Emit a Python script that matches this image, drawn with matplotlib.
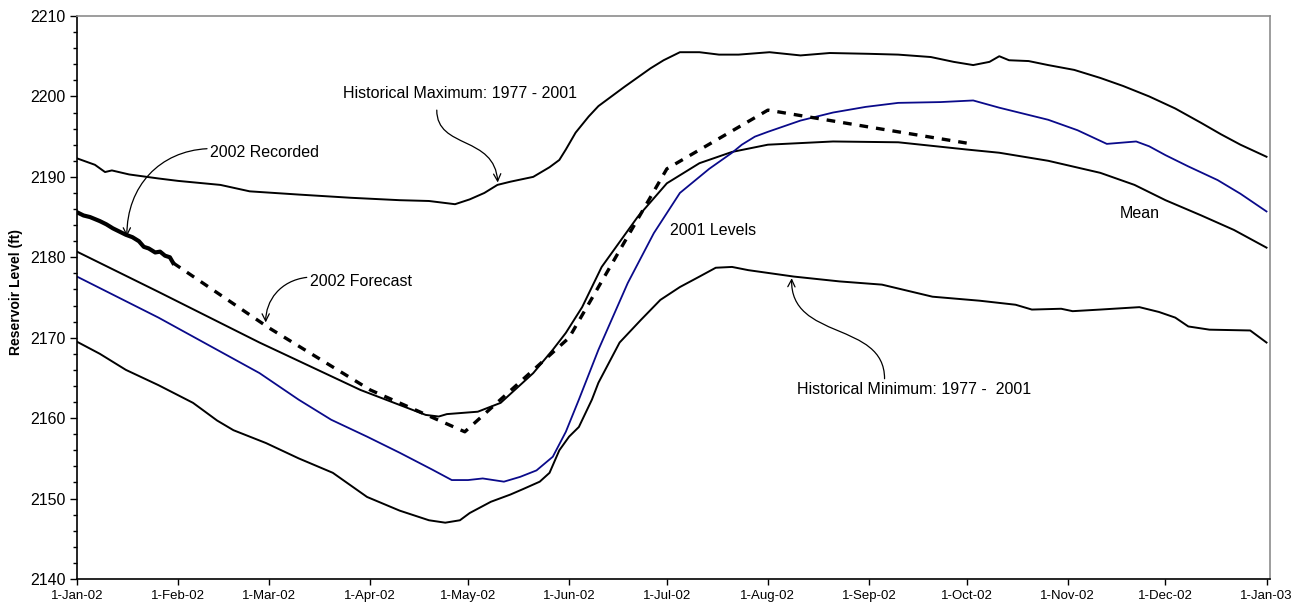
import numpy as np
import matplotlib
matplotlib.use("Agg")
import matplotlib.pyplot as plt
import matplotlib.dates as mdates
from matplotlib.patches import FancyArrowPatch
from matplotlib.path import Path

plt.rcParams['font.family'] = ['Liberation Sans', 'DejaVu Sans']

START = np.datetime64('2002-01-01')

# Historical maximum 1977-2001 (day of year, ft)
max_days = [0, 5.5, 8.6, 10.7, 16, 25, 31, 44, 53, 68, 84, 99, 108, 116, 120.5, 125, 129, 133,
            140, 145, 148, 150, 153, 157, 160, 168, 176, 180, 185, 191, 197, 203, 212.5, 222,
            231, 243, 252, 262, 269, 275, 280, 283, 286, 292, 298, 306, 314, 321, 329, 337,
            345, 351, 357, 365]
max_lvl = [2192.3, 2191.5, 2190.6, 2190.8, 2190.3, 2189.8, 2189.5, 2189.0, 2188.2, 2187.8, 2187.4,
           2187.1, 2187.0, 2186.6, 2187.2, 2188.0, 2189.0, 2189.4, 2190.0, 2191.2, 2192.1, 2193.4,
           2195.5, 2197.5, 2198.8, 2201.2, 2203.5, 2204.5, 2205.5, 2205.5, 2205.2, 2205.2, 2205.5,
           2205.1, 2205.4, 2205.3, 2205.2, 2204.9, 2204.3, 2203.9, 2204.3, 2205.0, 2204.5, 2204.4,
           2203.9, 2203.3, 2202.3, 2201.3, 2200.0, 2198.5, 2196.7, 2195.3, 2194.0, 2192.5]

# Mean level
mean_days = [0, 25, 56, 87, 107, 111, 113.5, 123, 130, 140, 146, 150, 155, 161, 172, 181, 191,
             201, 212, 232, 252, 273, 283, 298, 314, 324.5, 334, 345, 355, 365]
mean_lvl = [2180.7, 2175.7, 2169.4, 2163.5, 2160.4, 2160.2, 2160.5, 2160.8, 2161.9, 2165.6,
            2168.5, 2170.6, 2173.8, 2178.8, 2185.0, 2189.2, 2191.7, 2193.1, 2194.0, 2194.4,
            2194.3, 2193.4, 2193.0, 2192.0, 2190.5, 2189.0, 2187.1, 2185.2, 2183.4, 2181.2]

# 2001 levels
l2001_days = [0, 25, 56, 68, 78, 89, 99, 109, 115, 120, 124.5, 131, 136, 141, 146, 150, 154, 160,
              169, 177, 185, 194, 201, 204, 208, 212, 222, 232, 242, 252, 265, 275, 283, 298, 307,
              316, 325, 329, 334, 341, 350, 357, 365]
l2001_lvl = [2177.6, 2172.5, 2165.6, 2162.3, 2159.8, 2157.7, 2155.7, 2153.6, 2152.3, 2152.3,
             2152.5, 2152.1, 2152.7, 2153.5, 2155.2, 2158.3, 2162.3, 2168.5, 2176.8, 2183.0,
             2188.0, 2191.0, 2193.0, 2194.0, 2195.0, 2195.6, 2197.0, 2198.0, 2198.7, 2199.2,
             2199.3, 2199.5, 2198.6, 2197.1, 2195.8, 2194.1, 2194.4, 2193.8, 2192.7, 2191.3,
             2189.6, 2187.9, 2185.7]

# Historical minimum 1977-2001
min_days = [0, 7, 15, 25, 35.6, 38.3, 43, 48, 58, 68, 78.5, 89, 99, 108, 113, 117.5, 120.5, 127,
            133, 137, 142, 145, 148, 151, 154, 158, 160, 166.5, 173, 179, 185, 191, 196, 201, 206,
            220, 234, 247, 262.5, 277, 288, 293, 302, 305.5, 314, 326, 332, 337, 341, 347.5, 360,
            365]
min_lvl = [2169.5, 2168.0, 2166.0, 2164.1, 2161.9, 2161.1, 2159.7, 2158.5, 2156.9, 2155.0,
           2153.2, 2150.2, 2148.5, 2147.3, 2147.0, 2147.3, 2148.2, 2149.6, 2150.5, 2151.2, 2152.1,
           2153.2, 2156.0, 2157.7, 2158.9, 2162.3, 2164.4, 2169.4, 2172.2, 2174.7, 2176.3, 2177.6,
           2178.7, 2178.8, 2178.4, 2177.6, 2177.0, 2176.6, 2175.1, 2174.6, 2174.1, 2173.5, 2173.6,
           2173.3, 2173.5, 2173.8, 2173.2, 2172.5, 2171.4, 2171.0, 2170.9, 2169.4]

# 2002 recorded
rec_days = [0, 2, 4, 7, 9, 11, 13, 15, 17, 19, 20.5, 22, 24, 25.5, 27, 28.5, 29.5]
rec_lvl = [2185.6, 2185.2, 2185.0, 2184.5, 2184.1, 2183.6, 2183.2, 2182.8, 2182.5, 2182.0,
           2181.3, 2181.1, 2180.6, 2180.7, 2180.2, 2180.0, 2179.3]

# 2002 forecast (month-end targets)
fc_days = [29.5, 59, 90, 119, 151, 181, 212, 243, 273]
fc_lvl = [2179.3, 2171.2, 2163.5, 2158.3, 2170.0, 2191.0, 2198.3, 2196.2, 2194.2]

tick_dates = ['2002-01-01', '2002-02-01', '2002-03-01', '2002-04-01', '2002-05-01', '2002-06-01',
              '2002-07-01', '2002-08-01', '2002-09-01', '2002-10-01', '2002-11-01', '2002-12-01',
              '2003-01-01']
tick_labels = ['1-Jan-02', '1-Feb-02', '1-Mar-02', '1-Apr-02', '1-May-02', '1-Jun-02', '1-Jul-02',
               '1-Aug-02', '1-Sep-02', '1-Oct-02', '1-Nov-02', '1-Dec-02', '1-Jan-03']


def to_dates(days):
    return START + (np.asarray(days) * 86400).astype('timedelta64[s]')


def dt(day):
    return mdates.date2num(to_dates([day])[0])


fig = plt.figure(figsize=(13.05, 6.09), dpi=100)
ax = fig.add_axes([0.059, 0.0493, 0.914, 0.9244])

black_lw = 1.4
ax.plot(to_dates(max_days), max_lvl, color='black', lw=black_lw)
ax.plot(to_dates(mean_days), mean_lvl, color='black', lw=black_lw)
ax.plot(to_dates(min_days), min_lvl, color='black', lw=black_lw)
ax.plot(to_dates(l2001_days), l2001_lvl, color='#0a0a8a', lw=1.3)
ax.plot(to_dates(rec_days), rec_lvl, color='black', lw=3.0)
ax.plot(to_dates(fc_days), fc_lvl, color='black', lw=2.4, linestyle=(0, (2.6, 2.4)))

ax.set_ylim(2140, 2210)
ax.set_xlim(dt(0), dt(366))
ax.set_yticks(np.arange(2140, 2211, 10))
ax.set_yticks(np.arange(2140, 2211, 2), minor=True)
ax.set_xticks([mdates.date2num(np.datetime64(d)) for d in tick_dates])
ax.set_xticklabels(tick_labels, fontsize=9.5)
ax.tick_params(axis='y', which='major', direction='out', length=5, width=1, labelsize=11.5, pad=3)
ax.tick_params(axis='y', which='minor', direction='out', length=3, width=1)
ax.tick_params(axis='x', which='major', direction='out', length=4, width=1, pad=4)

for side in ('top', 'right'):
    ax.spines[side].set_color('#8c8c8c')
    ax.spines[side].set_linewidth(1.2)
for side in ('left', 'bottom'):
    ax.spines[side].set_color('black')
    ax.spines[side].set_linewidth(1.2)

ax.set_ylabel('Reservoir Level (ft)', fontsize=10, fontweight='bold')
ax.yaxis.set_label_coords(-0.045, 0.51)

fs = 11.5


def curved_arrow(p0, p1, p2, p3):
    verts = [(dt(p[0]), p[1]) for p in (p0, p1, p2, p3)]
    path = Path(verts, [Path.MOVETO, Path.CURVE4, Path.CURVE4, Path.CURVE4])
    ax.add_patch(FancyArrowPatch(path=path, arrowstyle='->', color='black', lw=0.9,
                                 mutation_scale=13, transform=ax.transData))


ax.text(dt(81.6), 2200.4, 'Historical Maximum: 1977 - 2001', fontsize=fs, va='center', ha='left')
curved_arrow((110.4, 2198.3), (110.4, 2193.4), (128.2, 2195.2), (129.1, 2189.3))

ax.text(dt(40.8), 2193.0, '2002 Recorded', fontsize=fs, va='center', ha='left')
curved_arrow((39.9, 2193.5), (25.5, 2193.2), (15.3, 2188.9), (15.3, 2182.6))

ax.text(dt(71.5), 2177.05, '2002 Forecast', fontsize=fs, va='center', ha='left')
curved_arrow((70.5, 2177.5), (62.3, 2177.1), (57.9, 2174.6), (57.9, 2171.9))

ax.text(dt(182), 2183.3, '2001 Levels', fontsize=fs, va='center', ha='left')
ax.text(dt(320), 2185.5, 'Mean', fontsize=fs, va='center', ha='left')

ax.text(dt(221), 2163.5, 'Historical Minimum: 1977 -  2001', fontsize=fs, va='center', ha='left')
curved_arrow((247.8, 2164.9), (247.8, 2172.1), (218.7, 2169.6), (219.3, 2177.4))

fig.savefig('out.png', dpi=100)
